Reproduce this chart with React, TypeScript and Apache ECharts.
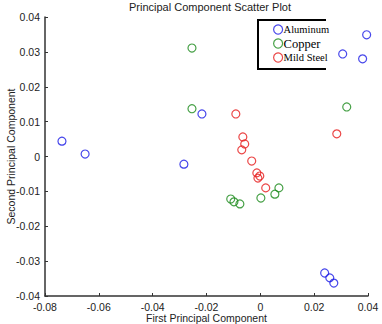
import React, { useEffect, useRef } from "react";
import * as echarts from "echarts";

const aluminumX = [-0.0737, -0.0651, -0.0284, -0.0217, 0.0306, 0.0380, 0.0395, 0.0239, 0.0258, 0.0273];
const aluminumY = [0.0044, 0.0007, -0.0022, 0.0122, 0.0294, 0.0280, 0.0349, -0.0334, -0.0348, -0.0363];

const copperX = [-0.0254, -0.0254, 0.0321, -0.0110, -0.0098, -0.0076, 0.0002, 0.0054, 0.0069];
const copperY = [0.0311, 0.0137, 0.0142, -0.0122, -0.0130, -0.0136, -0.0119, -0.0108, -0.0090];

const steelX = [-0.0091, -0.0065, -0.0058, -0.0069, -0.0032, -0.0013, -0.0002, -0.0009, 0.0020, 0.0284];
const steelY = [0.0122, 0.0056, 0.0036, 0.0019, -0.0013, -0.0047, -0.0056, -0.0062, -0.0090, 0.0065];

const seriesNames = ["Aluminum", "Copper", "Mild Steel"];
const seriesColors = ["#1a1ae6", "#1a8a1a", "#e61a1a"];

const zip = (xs: number[], ys: number[]) => xs.map((x, i) => [x, ys[i]]);

const fmt = (v: number) => {
  const r = Math.round(v * 100) / 100;
  return r === 0 ? "0" : String(r);
};

export default function App() {
  const ref = useRef<HTMLDivElement>(null);
  useEffect(() => {
    if (!ref.current) return;
    document.body.style.margin = "0";
    const chart = echarts.init(ref.current, undefined, { renderer: "svg" });
    const sets = [zip(aluminumX, aluminumY), zip(copperX, copperY), zip(steelX, steelY)];
    const axisCommon = {
      axisLine: { show: true, onZero: false, lineStyle: { color: "#333", width: 1.5 } },
      axisTick: { show: true, inside: true, length: 3, lineStyle: { color: "#333" } },
      splitLine: { show: false },
      axisLabel: {
        fontFamily: "Liberation Sans",
        fontSize: 10.5,
        color: "#222",
        formatter: fmt,
      },
      nameMoveOverlap: false,
      nameTextStyle: { fontFamily: "Liberation Sans", fontSize: 10.5, color: "#222" },
    };
    chart.setOption({
      animation: false,
      backgroundColor: "#fff",
      title: {
        text: "Principal Component Scatter Plot",
        left: 205,
        textAlign: "center",
        top: -4,
        textStyle: { fontFamily: "Liberation Sans", fontSize: 11, fontWeight: "normal", color: "#222" },
      },
      grid: { left: 45, right: 14, top: 17, bottom: 28, containLabel: false, outerBoundsMode: "none" },
      xAxis: {
        type: "value",
        min: -0.08,
        max: 0.04,
        interval: 0.02,
        name: "First Principal Component",
        nameLocation: "middle",
        nameGap: 16,
        ...axisCommon,
        axisLabel: { ...axisCommon.axisLabel, margin: 5 },
      },
      yAxis: {
        type: "value",
        min: -0.04,
        max: 0.04,
        interval: 0.01,
        name: "Second Principal Component",
        nameLocation: "middle",
        nameGap: 29,
        ...axisCommon,
        axisLabel: { ...axisCommon.axisLabel, margin: 5 },
      },
      legend: {
        orient: "vertical",
        left: 268,
        top: 19,
        itemWidth: 9,
        itemHeight: 9,
        itemGap: 2,
        data: seriesNames.map((n, i) => ({
          name: n,
          icon: "circle",
          itemStyle: { color: "#fff", borderColor: seriesColors[i], borderWidth: 1.2 },
          textStyle: {
            fontFamily: "Liberation Serif",
            fontSize: i === 1 ? 12.5 : 10.5,
            color: "#000",
            padding: [0, 0, 0, -4],
          },
        })),
      },
      graphic: [
        {
          type: "polyline",
          shape: { points: [[326, 20], [258, 20], [258, 69], [326, 69]] },
          style: { stroke: "#000", lineWidth: 2, fill: "none" },
          z: 10,
        },
      ],
      series: sets.map((d, i) => ({
        type: "scatter",
        name: seriesNames[i],
        data: d,
        symbol: "circle",
        symbolSize: 8,
        itemStyle: { color: "rgba(255,255,255,0)", borderColor: seriesColors[i], borderWidth: 1.2 },
      })),
    });
    return () => chart.dispose();
  }, []);
  return <div ref={ref} style={{ width: 382, height: 324 }} />;
}
